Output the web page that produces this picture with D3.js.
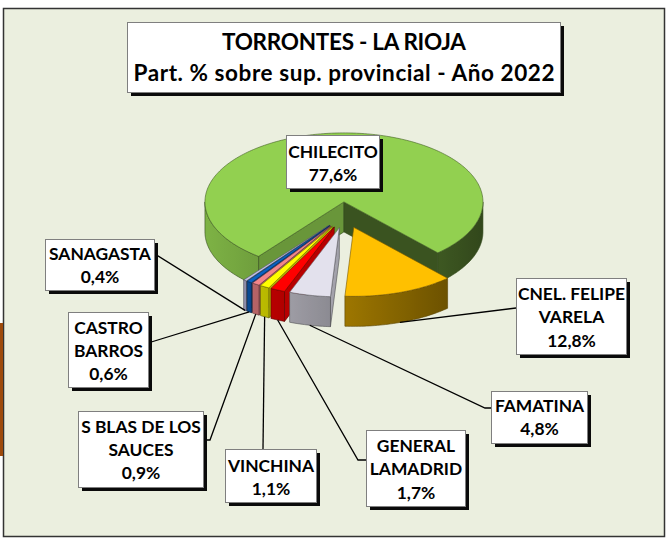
<!DOCTYPE html>
<html><head><meta charset="utf-8">
<script src="https://cdn.jsdelivr.net/npm/d3@7"></script>
<style>
body{margin:0;background:#fff}
svg{display:block}
text{font-family:Lato,"Open Sans",sans-serif;font-weight:bold;fill:#000}
</style>
</head><body>
<svg id="c" width="669" height="540"></svg>
<script>
// ---- data ----
const categories = ["CHILECITO","CNEL. FELIPE VARELA","FAMATINA","GENERAL LAMADRID","VINCHINA","S BLAS DE LOS SAUCES","CASTRO BARROS","SANAGASTA"];
const values = [77.6, 12.8, 4.8, 1.7, 1.1, 0.9, 0.6, 0.4];
const valueLabels = ["77,6%","12,8%","4,8%","1,7%","1,1%","0,9%","0,6%","0,4%"];
const labelLines = [["CHILECITO"],["CNEL. FELIPE","VARELA"],["FAMATINA"],["GENERAL","LAMADRID"],["VINCHINA"],["S BLAS DE LOS","SAUCES"],["CASTRO","BARROS"],["SANAGASTA"]];
const colors = ["#92D050","#FFC000","#E3E1ED","#FF0000","#FFFF00","#F3858A","#0A62C2","#BEBEE4"];
const titleLines = ["TORRONTES - LA RIOJA","Part. % sobre sup. provincial - Año 2022"];

// ---- layout ----
const W = 669, H = 540;
const cx = 345, cy = 215, rx = 139, ry = 69, depth = 30, explode = 0.19;
const startDeg = 217.9;
const labelBoxes = [
  {x:286,y:135,w:93,h:53, ly:[151,174], lead:null},
  {x:516,y:278,w:110,h:76, ly:[293,316,340], lead:[[516,308]]},
  {x:491,y:391,w:96,h:52, ly:[405,428], lead:[[485,408],[491,408]]},
  {x:366,y:430,w:99,h:76, ly:[445,468,492], lead:[[358,460],[366,460]]},
  {x:225,y:449,w:91,h:53, ly:[465,488], lead:[[263,449]]},
  {x:78,y:411,w:125,h:76, ly:[426,449,472], lead:[[210,440],[203,440]]},
  {x:68,y:312,w:80,h:75, ly:[327,350,373], lead:[[148,343]]},
  {x:45,y:239,w:109,h:51, ly:[253,276], lead:[[158,256],[154,256]]}
];

const svg = d3.select("#c");
const defs = svg.append("defs");

// background + frame
svg.append("rect").attr("x",0).attr("y",0).attr("width",W).attr("height",H).attr("fill","#fff");
svg.append("rect").attr("x",3.5).attr("y",8.5).attr("width",661).attr("height",528)
  .attr("fill","#EBEFDF").attr("stroke","#333").attr("stroke-width",1.5);
svg.append("rect").attr("x",0).attr("y",323).attr("width",3).attr("height",133).attr("fill","#9E4A0C");

// ---- pie ----
const toRad = d => d*Math.PI/180;
const pie = d3.pie().sort(null).value(d=>d)
  .startAngle(toRad(startDeg)).endAngle(toRad(startDeg)+2*Math.PI);
const arcs = pie(values);

const shade = (c,k) => { const r = d3.rgb(c); return d3.rgb(r.r*k, r.g*k, r.b*k).formatHex(); };
const rimI = a => 0.6 - 0.26*Math.sin(a);

const slices = arcs.map((d,i)=>{
  const mid = (d.startAngle+d.endAngle)/2;
  const ax = cx + explode*rx*Math.sin(mid);
  const ay = cy - explode*ry*Math.cos(mid);
  const P = (a,z) => [ax + rx*Math.sin(a), ay - ry*Math.cos(a) + z];
  return {i, d, mid, ax, ay, P, color: colors[i]};
});

function arcPts(P, a0, a1, z){
  const n = Math.max(2, Math.ceil(Math.abs(a1-a0)/0.02));
  const out = [];
  for(let k=0;k<=n;k++){ out.push(P(a0+(a1-a0)*k/n, z)); }
  return out;
}
const line = d3.line();

const gSides = svg.append("g");
const gTops = svg.append("g");
let gid = 0;

const order = slices.slice().sort((a,b)=> (-Math.cos(a.mid)) - (-Math.cos(b.mid)));
order.forEach(s=>{
  const {d, P, ax, ay, color} = s;
  const a0 = d.startAngle, a1 = d.endAngle;
  const edge = shade(color,0.35);
  if(Math.sin(a0) < 0){
    const pts = [[ax,ay],P(a0,0),P(a0,depth),[ax,ay+depth]];
    gSides.append("path").attr("d",line(pts)+"Z").attr("fill",shade(color,0.72))
      .attr("stroke",edge).attr("stroke-width",0.6).attr("stroke-linejoin","round");
  }
  if(Math.sin(a1) > 0){
    const pts = [[ax,ay],P(a1,0),P(a1,depth),[ax,ay+depth]];
    gSides.append("path").attr("d",line(pts)+"Z").attr("fill",shade(color,0.4))
      .attr("stroke",edge).attr("stroke-width",0.6).attr("stroke-linejoin","round");
  }
  for(let k=-1;k<=2;k++){
    const lo = Math.max(a0, Math.PI/2 + 2*Math.PI*k);
    const hi = Math.min(a1, 3*Math.PI/2 + 2*Math.PI*k);
    if(hi - lo <= 1e-6) continue;
    const top = arcPts(P, lo, hi, 0);
    const bot = arcPts(P, hi, lo, depth);
    const xs = top.map(p=>p[0]);
    const xmin = d3.min(xs), xmax = d3.max(xs);
    const id = "g"+(gid++);
    const grad = defs.append("linearGradient").attr("id",id)
      .attr("gradientUnits","userSpaceOnUse").attr("x1",xmin).attr("x2",Math.max(xmax,xmin+0.1)).attr("y1",0).attr("y2",0);
    const ns = 12;
    const stops = [];
    for(let j=0;j<=ns;j++){
      const a = lo + (hi-lo)*j/ns;
      const x = ax + rx*Math.sin(a);
      stops.push({o: xmax>xmin ? (x-xmin)/(xmax-xmin) : 0, c: shade(color, rimI(a))});
    }
    stops.sort((p,q)=>p.o-q.o).forEach(st=>grad.append("stop").attr("offset",st.o).attr("stop-color",st.c));
    gSides.append("path").attr("d",line(top.concat(bot))+"Z").attr("fill","url(#"+id+")")
      .attr("stroke",edge).attr("stroke-width",0.6).attr("stroke-linejoin","round");
  }
  const tp = [[ax,ay]].concat(arcPts(P,a0,a1,0));
  gTops.append("path").attr("d",line(tp)+"Z").attr("fill",color)
    .attr("stroke",shade(color,0.45)).attr("stroke-width",0.6).attr("stroke-linejoin","round");
});

// ---- leader lines ----
const gLead = svg.append("g");
slices.forEach(s=>{
  const lb = labelBoxes[s.i];
  if(!lb.lead) return;
  const anchor = s.P(s.mid, depth);
  gLead.append("path").attr("d", line([anchor].concat(lb.lead)))
    .attr("fill","none").attr("stroke","#000").attr("stroke-width",1.3);
});

// ---- label boxes ----
function box(g, x, y, w, h){
  g.append("rect").attr("x",x+4).attr("y",y+4).attr("width",w).attr("height",h).attr("fill","#0a0a0a");
  g.append("rect").attr("x",x+0.5).attr("y",y+0.5).attr("width",w).attr("height",h)
    .attr("fill","#fff").attr("stroke","#7f7f7f").attr("stroke-width",1);
}
const labelFont = 17.4;
const gLab = svg.append("g");
slices.forEach(s=>{
  const lb = labelBoxes[s.i];
  const g = gLab.append("g");
  box(g, lb.x, lb.y, lb.w, lb.h);
  const lines = labelLines[s.i].concat([valueLabels[s.i]]);
  lines.forEach((t,j)=>{
    g.append("text").attr("x", lb.x + lb.w/2 + 0.5).attr("y", lb.ly[j])
      .attr("text-anchor","middle").attr("dominant-baseline","central")
      .style("font-size", labelFont+"px").text(t);
  });
});

// ---- title ----
const gT = svg.append("g");
box(gT, 127, 22, 433, 70);
const titleFont = 22.5;
const ty = [41, 72];
const tw = [244, 421];
titleLines.forEach((t,j)=>{
  gT.append("text").attr("x",344).attr("y",ty[j]).attr("text-anchor","middle")
    .attr("dominant-baseline","central").style("font-size",titleFont+"px")
    .attr("textLength", tw[j]).attr("lengthAdjust","spacing").text(t);
});
</script>
</body></html>
